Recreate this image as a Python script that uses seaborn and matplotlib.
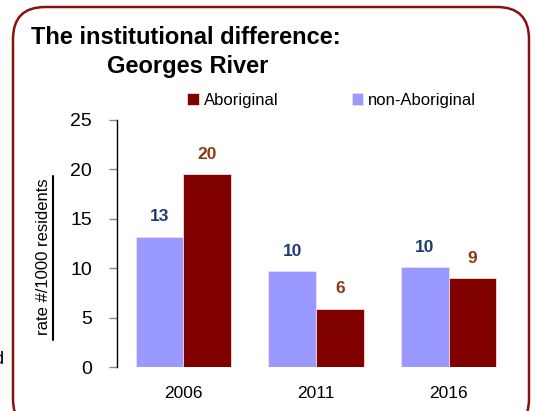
import pandas as pd
import matplotlib.pyplot as plt
import seaborn as sns
from matplotlib.patches import FancyBboxPatch
from matplotlib.lines import Line2D

# data
years = ["2006", "2011", "2016"]
non_aboriginal = [13.2, 9.7, 10.1]
aboriginal = [19.5, 5.9, 9.0]
groups = ["non-Aboriginal", "Aboriginal"]

df = pd.DataFrame({
    "year": years * 2,
    "group": [groups[0]] * 3 + [groups[1]] * 3,
    "rate": non_aboriginal + aboriginal,
})

sns.set_theme(style="white")
plt.rcParams["font.family"] = ["Liberation Sans", "DejaVu Sans"]
plt.rcParams["text.color"] = "black"
plt.rcParams["xtick.labelcolor"] = "black"
plt.rcParams["ytick.labelcolor"] = "black"

fig = plt.figure(figsize=(5.35, 4.11), dpi=100)
ax = fig.add_axes([117 / 535, 44 / 411, 398 / 535, 247 / 411])

pal = {"non-Aboriginal": "#9999FF", "Aboriginal": "#800000"}
sns.barplot(data=df, x="year", y="rate", hue="group", hue_order=groups,
            palette=pal, width=0.72, gap=0, saturation=1, edgecolor="#f2dede",
            linewidth=0.6, ax=ax)

label_cols = ["#1F3A73", "#8B3A12"]
for cont, col in zip(ax.containers, label_cols):
    ax.bar_label(cont, labels=[f"{v:.0f}" for v in cont.datavalues],
                 padding=9, color=col, fontsize=12.5, fontweight="bold")

ax.set_ylim(0, 25)
ax.set_xlim(-0.5, 2.5)
ax.set_yticks([0, 5, 10, 15, 20, 25])
ax.tick_params(axis="y", which="both", left=True, length=6, width=1,
               color="#888888", labelsize=14, pad=12)
ax.tick_params(axis="x", bottom=False, labelsize=12.5, pad=8)
ax.set_xlabel("")
ax.set_ylabel("")
for s in ["top", "right", "bottom"]:
    ax.spines[s].set_visible(False)
ax.spines["left"].set_color("black")
ax.spines["left"].set_linewidth(1)

# legend: Aboriginal first
h, l = ax.get_legend_handles_labels()
ax.legend([h[1], h[0]], [l[1], l[0]], ncol=2, frameon=False, fontsize=12,
          handlelength=0.7, handleheight=0.7, handletextpad=0.3,
          columnspacing=4.4, loc="center left",
          bbox_to_anchor=(187 / 535, 1 - 100 / 411), bbox_transform=fig.transFigure,
          borderaxespad=0, borderpad=0)

# titles
fig.text(31 / 535, 1 - 37 / 411, "The institutional difference:", fontsize=17,
         fontweight="bold", ha="left", va="center")
fig.text(107 / 535, 1 - 67 / 411, "Georges River", fontsize=17,
         fontweight="bold", ha="left", va="center")

# y label with underline
fig.text(44 / 535, 1 - 257 / 411, "rate #/1000 residents", rotation=90,
         fontsize=12, ha="center", va="center")
fig.add_artist(Line2D([53 / 535, 53 / 535], [1 - 340 / 411, 1 - 176 / 411],
                      transform=fig.transFigure, color="black", lw=1.5))

# stray clipped text at left edge
fig.text(-0.013, 1 - 359 / 411, "d", fontsize=13, ha="left", va="center")

# rounded frame
frame = FancyBboxPatch((13 / 535, -20 / 411), 516 / 535, 424 / 411,
                       boxstyle="round,pad=0,rounding_size=0.06",
                       transform=fig.transFigure, fill=False,
                       edgecolor="#8B1010", linewidth=1.8, mutation_aspect=535 / 411)
fig.add_artist(frame)

fig.savefig("out.png", dpi=100)
